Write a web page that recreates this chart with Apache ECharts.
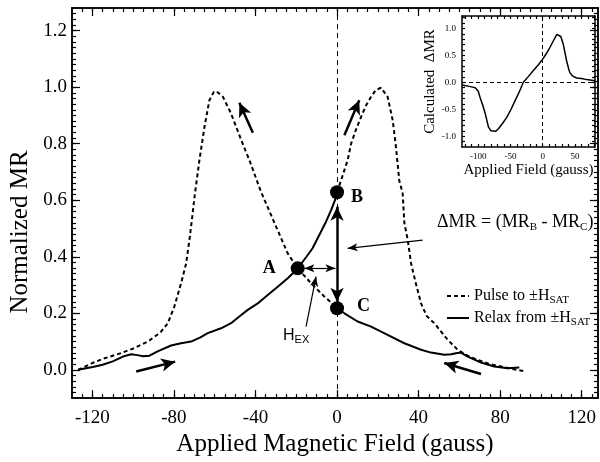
<!DOCTYPE html>
<html>
<head>
<meta charset="utf-8">
<script src="https://cdn.jsdelivr.net/npm/echarts@6/dist/echarts.min.js"></script>
<style>
html, body { margin: 0; padding: 0; background: #fff; }
#box { width: 600px; height: 462px; }
</style>
</head>
<body>
<div id="box"></div>
<script>
// pulse to +/-Hsat (dashed), two branches
const pulseLeft = [[-127, 0.0], [-120, 0.024], [-114, 0.041], [-106, 0.059], [-99.4, 0.077], [-92.8, 0.10],
  [-88, 0.125], [-86.3, 0.135], [-83, 0.165], [-79.8, 0.224], [-76.5, 0.306], [-74, 0.377], [-72.4, 0.46],
  [-71.2, 0.53], [-69.9, 0.612], [-67.5, 0.742], [-65, 0.86], [-62.6, 0.954], [-60.5, 0.982], [-59.3, 0.986],
  [-56, 0.966], [-52, 0.907], [-47, 0.813], [-43, 0.742], [-37.3, 0.63], [-30.7, 0.52], [-24.2, 0.412],
  [-19.3, 0.359], [-12.7, 0.306], [-6.2, 0.259], [0, 0.22]];
const pulseRight = [[0, 0.628], [2, 0.671], [5.2, 0.742], [6.9, 0.80], [9.3, 0.85], [11.8, 0.895], [14.2, 0.935],
  [16.7, 0.966], [19, 0.99], [21.6, 0.998], [24.8, 0.966], [27.3, 0.883], [28.9, 0.789], [30.5, 0.671],
  [32.2, 0.624], [33, 0.52], [34.7, 0.459], [36.3, 0.377], [38.5, 0.31], [41.2, 0.235], [44, 0.19],
  [47.7, 0.165], [54.3, 0.106], [59.2, 0.071], [64, 0.05], [69, 0.035], [75, 0.02], [80.4, 0.012],
  [86, 0.003], [92.6, -0.006]];

// relax from +/-Hsat (solid), two branches
const relaxLeft = [[-127, 0.0], [-119.8, 0.01], [-115, 0.018], [-110, 0.03], [-105, 0.047], [-101, 0.055],
  [-98, 0.052], [-95, 0.048], [-92, 0.05], [-88, 0.065], [-81.4, 0.086], [-76.5, 0.094], [-71.6, 0.1],
  [-67, 0.115], [-63.4, 0.13], [-56.9, 0.147], [-52, 0.165], [-47, 0.194], [-43.8, 0.212], [-38.9, 0.235],
  [-34, 0.265], [-29.1, 0.294], [-24.2, 0.324], [-20.9, 0.347], [-19.3, 0.359], [-15, 0.40], [-12, 0.43],
  [-8.7, 0.477], [-5.4, 0.524], [-2.9, 0.565], [-1, 0.6], [0, 0.628]];
const relaxRight = [[0, 0.218], [3.6, 0.2], [10.1, 0.171], [16.7, 0.153], [24.8, 0.124], [33, 0.094],
  [41.2, 0.071], [46.1, 0.061], [52.6, 0.053], [56, 0.055], [58.3, 0.059], [60.8, 0.061], [64.1, 0.047],
  [70.6, 0.026], [77.1, 0.012], [83.7, 0.006], [89.4, 0.008]];

// marked points A, B, C
const pointNames = ['A', 'B', 'C'];
const pointValues = [[-19.3, 0.359], [0, 0.628], [0, 0.218]];

// inset: calculated delta MR
const insetDelta = [[-125, -0.05], [-122.7, -0.06], [-112, -0.08], [-104.6, -0.10], [-100, -0.16], [-97, -0.28],
  [-93, -0.42], [-89, -0.58], [-84, -0.83], [-80, -0.90], [-77.3, -0.93], [-73, -0.91], [-68.6, -0.86],
  [-62, -0.76], [-55.6, -0.65], [-49, -0.50], [-42.8, -0.34], [-36, -0.17], [-30, 0.0], [-22, 0.11],
  [-14.5, 0.22], [-7, 0.32], [0, 0.43], [5, 0.52], [11.3, 0.65], [17, 0.78], [22, 0.89], [25, 0.90],
  [28, 0.85], [31.8, 0.71], [34.5, 0.55], [37, 0.40], [40, 0.26], [42, 0.18], [46, 0.12], [52.5, 0.08],
  [60, 0.07], [68, 0.05], [81, 0.03]];

// tick labels
const xMajor = [-120, -80, -40, 0, 40, 80, 120];
const yMajor = [0, 0.2, 0.4, 0.6, 0.8, 1.0, 1.2];
const insetXMajor = [-100, -50, 0, 50];
const insetYMajor = [-1, -0.5, 0, 0.5, 1];

// annotation arrows [from, to, both ends]
const arrowsThick = [
  [[0, 0.577], [0, 0.241], true],
  [[-41.3, 0.839], [-47.9, 0.945], false],
  [[3.6, 0.830], [10.9, 0.954], false],
  [[-98.5, -0.006], [-79.4, 0.029], false],
  [[70.6, -0.015], [52.6, 0.024], false]
];
const arrowsThin = [
  [[-16, 0.359], [-0.8, 0.359], true],
  [[-15.2, 0.153], [-10.3, 0.330], false],
  [[42, 0.459], [5.2, 0.430], false]
];

function steps(from, to, step) {
  const out = [];
  for (let v = from; v <= to + 1e-9; v += step) out.push(+v.toFixed(3));
  return out;
}
const xMinor = steps(-125, 125, 5);
const yMinor = steps(-0.08, 1.26, 0.02);
const insetXMinor = steps(-120, 80, 10);
const insetYMinor = steps(-1.1, 1.2, 0.1);

const serif = 'Liberation Serif';

function axis(gridIndex, position, min, max, ticks, len, labels, labelStyle) {
  return {
    type: 'value', gridIndex, position, min, max,
    splitLine: { show: false },
    axisLine: { onZero: false, lineStyle: { color: '#000', width: 1.5 } },
    axisTick: { inside: true, length: len, customValues: ticks, lineStyle: { color: '#000', width: 1.2 } },
    axisLabel: labels
      ? Object.assign({ customValues: labels, color: '#000', fontFamily: serif }, labelStyle)
      : { show: false }
  };
}

function arrowData(list, head) {
  return list.map(function (a) {
    return [
      { coord: a[0], symbol: a[2] ? 'arrow' : 'none', symbolSize: head },
      { coord: a[1], symbol: 'arrow', symbolSize: head }
    ];
  });
}

const chart = echarts.init(document.getElementById('box'));

const xAxes = [
  Object.assign(axis(0, 'bottom', -130, 128, xMajor, 8, xMajor, { fontSize: 19, margin: 10 }), {
    name: 'Applied Magnetic Field (gauss)', nameLocation: 'middle', nameGap: 32,
    nameTextStyle: { fontSize: 25, fontFamily: serif, color: '#000' }
  }),
  axis(0, 'bottom', -130, 128, xMinor, 4),
  axis(0, 'top', -130, 128, xMajor, 8),
  axis(0, 'top', -130, 128, xMinor, 4),
  Object.assign(axis(1, 'bottom', -125, 81, insetXMinor, 3, insetXMajor, { fontSize: 9, margin: 5 }), {
    name: 'Applied Field (gauss)', nameLocation: 'middle', nameGap: 16,
    nameTextStyle: { fontSize: 15, fontFamily: serif, color: '#000' }
  }),
  axis(1, 'top', -125, 81, insetXMinor, 3)
];

const yAxes = [
  axis(0, 'left', -0.1, 1.28, yMajor, 8, yMajor, {
    fontSize: 19, margin: 5, formatter: function (v) { return v.toFixed(1); }
  }),
  axis(0, 'left', -0.1, 1.28, yMinor, 4),
  axis(0, 'right', -0.1, 1.28, yMajor, 8),
  axis(0, 'right', -0.1, 1.28, yMinor, 4),
  Object.assign(axis(1, 'left', -1.2, 1.23, insetYMinor, 3, insetYMajor, {
    fontSize: 9, margin: 6, formatter: function (v) { return v.toFixed(1); }
  }), {
    name: 'Calculated  \u0394MR', nameLocation: 'middle', nameGap: 24,
    nameTextStyle: { fontSize: 15, fontFamily: serif, color: '#000' }
  }),
  axis(1, 'right', -1.2, 1.23, insetYMinor, 3)
];

const dashed = { color: '#000', width: 2, type: [4, 3] };
const solid = { color: '#000', width: 2 };
const subRich = {
  s: { fontSize: 11, fontFamily: serif, color: '#000', verticalAlign: 'bottom', lineHeight: 11 }
};

const labelPos = {
  A: { position: 'left', distance: 15, offset: [0, 0] },
  B: { position: 'right', distance: 7, offset: [0, 5] },
  C: { position: 'right', distance: 13, offset: [0, -2] }
};

chart.setOption({
  animation: false,
  color: ['#000'],
  grid: [
    { left: 72, top: 8, right: 2, bottom: 63 },
    { left: 462, top: 16, right: 5, bottom: 315, show: true, backgroundColor: '#fff', borderWidth: 0 }
  ],
  xAxis: xAxes,
  yAxis: yAxes,
  legend: {
    left: 441, top: 281, orient: 'vertical', itemWidth: 22, itemHeight: 14, itemGap: 2,
    data: ['Pulse to \u00b1HSAT', 'Relax from \u00b1HSAT'],
    itemStyle: { color: 'rgba(0,0,0,0)', borderWidth: 0, opacity: 0 },
    formatter: function (n) { return n.replace('HSAT', 'H{s|SAT}'); },
    textStyle: { fontFamily: serif, fontSize: 16, color: '#000', lineHeight: 20, rich: subRich }
  },
  graphic: [
    {
      type: 'text', x: 20, y: 232, rotation: Math.PI / 2,
      style: { text: 'Normalized MR', font: '25px "Liberation Serif"', fill: '#000', align: 'center', verticalAlign: 'middle' }
    },
    {
      type: 'text', x: 437, y: 222,
      style: {
        text: '\u0394MR = (MR{s|B} - MR{s|C})', font: '18px "Liberation Serif"', fill: '#000',
        verticalAlign: 'middle', lineHeight: 22,
        rich: { s: { fontSize: 11, fontFamily: serif, fill: '#000', verticalAlign: 'bottom', lineHeight: 11 } }
      }
    },
    {
      type: 'text', x: 283, y: 336,
      style: {
        text: 'H{s|EX}', font: '16px "Liberation Sans"', fill: '#000', verticalAlign: 'middle', lineHeight: 18,
        rich: { s: { fontSize: 11, fontFamily: 'Liberation Sans', fill: '#000', verticalAlign: 'bottom', lineHeight: 10 } }
      }
    }
  ],
  series: [
    {
      name: 'Pulse to \u00b1HSAT', type: 'line', data: pulseLeft, symbol: 'none', lineStyle: dashed,
      markLine: {
        silent: true, symbol: 'none', label: { show: false },
        lineStyle: { color: '#000', width: 1, type: [5, 4] },
        data: [{ xAxis: 0 }]
      }
    },
    { name: 'Pulse to \u00b1HSAT', type: 'line', data: pulseRight, symbol: 'none', lineStyle: dashed },
    {
      name: 'Relax from \u00b1HSAT', type: 'line', data: relaxLeft, symbol: 'none', lineStyle: solid,
      markLine: {
        silent: true, label: { show: false }, symbol: ['none', 'arrow'],
        lineStyle: { color: '#000', width: 2.5, type: 'solid' },
        itemStyle: { color: '#000' },
        data: arrowData(arrowsThick, [10, 14])
      }
    },
    {
      name: 'Relax from \u00b1HSAT', type: 'line', data: relaxRight, symbol: 'none', lineStyle: solid,
      markLine: {
        silent: true, label: { show: false }, symbol: ['none', 'arrow'],
        lineStyle: { color: '#000', width: 1.2, type: 'solid' },
        itemStyle: { color: '#000' },
        data: arrowData(arrowsThin, [6, 10])
      }
    },
    {
      type: 'scatter', symbolSize: 14, itemStyle: { color: '#000', opacity: 1 }, z: 5,
      data: pointNames.map(function (n, i) {
        return { name: n, value: pointValues[i], label: labelPos[n] };
      }),
      label: {
        show: true, formatter: '{b}', color: '#000', opacity: 1,
        fontFamily: serif, fontSize: 18, fontWeight: 'bold'
      }
    },
    {
      type: 'line', xAxisIndex: 4, yAxisIndex: 4, data: insetDelta, symbol: 'none',
      lineStyle: { color: '#000', width: 1.5 },
      markLine: {
        silent: true, symbol: 'none', label: { show: false },
        lineStyle: { color: '#000', width: 1, type: [4, 3] },
        data: [{ xAxis: 0 }, { yAxis: 0 }]
      }
    }
  ]
});
</script>
</body>
</html>
